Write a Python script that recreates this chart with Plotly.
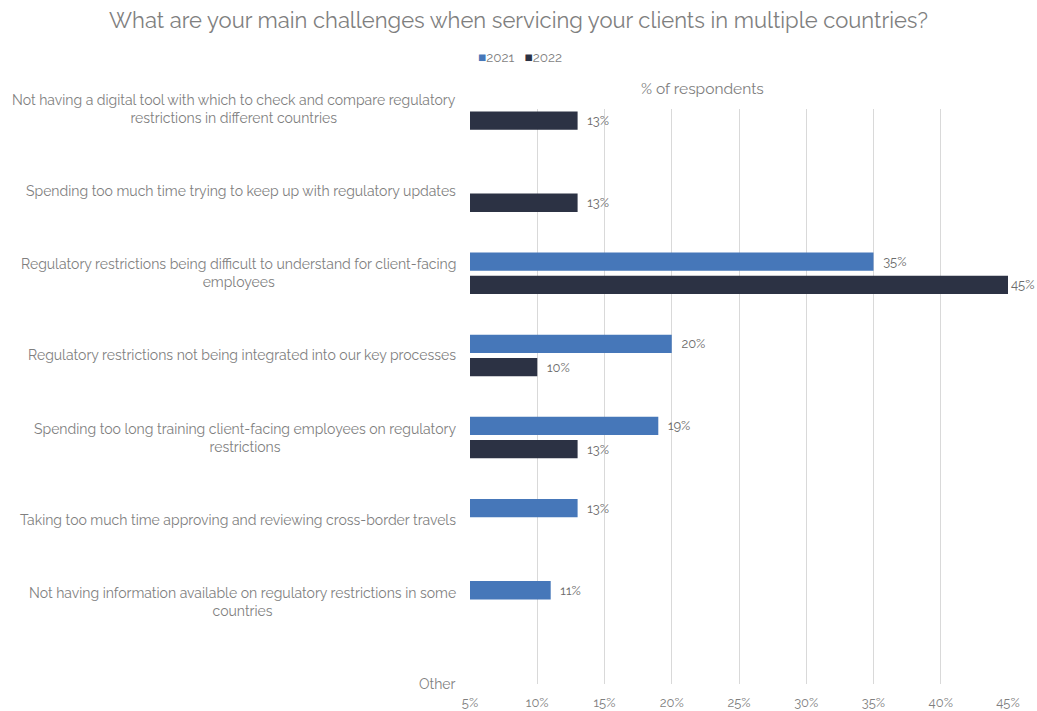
import plotly.graph_objects as go

# Survey question categories, listed top to bottom
categories = [
    "Not having a digital tool with which to check and compare regulatory<br>restrictions in different countries",
    "Spending too much time trying to keep up with regulatory updates",
    "Regulatory restrictions being difficult to understand for client-facing<br>employees",
    "Regulatory restrictions not being integrated into our key processes",
    "Spending too long training client-facing employees on regulatory<br>restrictions",
    "Taking too much time approving and reviewing cross-border travels",
    "Not having information available on regulatory restrictions in some<br>countries",
    "Other",
]

# Share of respondents (%), None where the year has no answer
values_2021 = [None, None, 35, 20, 19, 13, 11, None]
values_2022 = [13, 13, 45, 10, 13, None, None, None]

x_ticks = [5, 10, 15, 20, 25, 30, 35, 40, 45]
x_max = 45

FONT = "Raleway, Lato, 'Open Sans', sans-serif"
GREY = "#7f7f7f"
BLUE = "#4677b9"
NAVY = "#2c3244"

positions = list(range(len(categories)))


def value_labels(values):
    # padded percentage text; the bar that reaches the axis end sits flush
    out = []
    for v in values:
        if v is None:
            out.append("")
        elif v >= x_max:
            out.append(f"{v}%")
        else:
            out.append(f"\u00a0\u00a0{v}%")
    return out


fig = go.Figure()
for name, vals, color, offset in [
    ("2021", values_2021, BLUE, -0.253),
    ("2022", values_2022, NAVY, 0.03),
]:
    fig.add_trace(go.Bar(
        name=name, y=positions, x=vals, orientation="h",
        marker=dict(color=color, line=dict(width=0)),
        width=0.223, offset=offset,
        text=value_labels(vals), texttemplate="%{text}", textposition="outside",
        textfont=dict(family=FONT, size=13, color="#6b6b6b"),
        cliponaxis=False, showlegend=False,
    ))

# Category labels, centred line by line and right-aligned against the plot
for pos, label in zip(positions, categories):
    fig.add_annotation(
        text=label, x=-0.0223, xref="paper", y=pos, yref="y",
        xanchor="right", yanchor="middle", align="center",
        showarrow=False, font=dict(family=FONT, size=14, color=GREY),
    )

# Axis title above the plot
fig.add_annotation(
    text="% of respondents", x=0.433, xref="paper", y=1.0365, yref="paper",
    xanchor="center", yanchor="middle", showarrow=False,
    font=dict(family=FONT, size=15.5, color=GREY),
)

# Compact legend row
fig.add_annotation(
    text=(f"<span style='color:{BLUE}'>■</span>2021\u00a0\u00a0\u00a0"
          f"<span style='color:{NAVY}'>■</span>2022"),
    x=0.093, xref="paper", y=1.09, yref="paper",
    xanchor="center", yanchor="middle", showarrow=False,
    font=dict(family=FONT, size=13.5, color=GREY),
)

fig.update_layout(
    width=1037, height=711,
    margin=dict(l=470, r=29, t=109, b=27),
    paper_bgcolor="white", plot_bgcolor="white",
    barmode="overlay", showlegend=False,
    title=dict(
        text="What are your main challenges when servicing your clients in multiple countries?",
        x=0.5, xanchor="center", y=1 - 20 / 711, yanchor="middle",
        font=dict(family=FONT, size=22, color=GREY),
    ),
    xaxis=dict(
        range=[5, 45], tickmode="array", tickvals=x_ticks,
        ticktext=[f"{v}%" for v in x_ticks],
        showgrid=True, gridcolor="#d9d9d9", gridwidth=1,
        zeroline=False, showline=False, automargin=False,
        tickfont=dict(family=FONT, size=13, color=GREY),
        ticklabelstandoff=9,
    ),
    yaxis=dict(
        range=[7, 0], showticklabels=False, showgrid=False,
        zeroline=False, showline=False, automargin=False,
    ),
)

fig.write_html("out.html")
